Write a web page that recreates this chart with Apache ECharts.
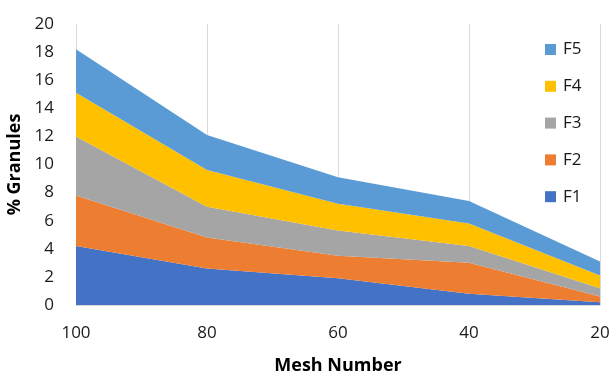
<!DOCTYPE html>
<html><head><meta charset="utf-8">
<script src="https://cdn.jsdelivr.net/npm/echarts@6/dist/echarts.min.js"></script>
<style>html,body{margin:0;padding:0;background:#fff}#c{width:610px;height:374px}</style>
</head><body><div id="c"></div>
<script>
var categories = ['100', '80', '60', '40', '20'];
var F1 = [4.2, 2.6, 1.9, 0.8, 0.2];
var F2 = [3.6, 2.2, 1.6, 2.2, 0.4];
var F3 = [4.2, 2.2, 1.8, 1.2, 0.6];
var F4 = [3.1, 2.6, 1.9, 1.6, 0.9];
var F5 = [3.1, 2.5, 1.9, 1.6, 1.0];
var seriesNames = ['F1', 'F2', 'F3', 'F4', 'F5'];
var seriesData = [F1, F2, F3, F4, F5];
var colors = ['#4472C4', '#ED7D31', '#A5A5A5', '#FFC000', '#5B9BD5'];

var font = '"Open Sans", "Noto Sans", sans-serif';
var chart = echarts.init(document.getElementById('c'), null, {renderer: 'canvas'});
chart.setOption({
  animation: false,
  textStyle: {fontFamily: font},
  grid: {left: 76, right: 10, top: 24, bottom: 69, containLabel: false, outerBoundsMode: 'none'},
  legend: {
    orient: 'vertical', left: 545, top: 41, padding: 0, itemGap: 19.8,
    itemWidth: 11, itemHeight: 11, icon: 'rect',
    data: ['F5', 'F4', 'F3', 'F2', 'F1'],
    textStyle: {fontSize: 17, lineHeight: 17, color: '#1a1a1a', fontFamily: font, padding: [0, 0, 0, 2]}
  },
  xAxis: {
    type: 'category', data: categories, boundaryGap: false,
    name: 'Mesh Number', nameLocation: 'middle', nameGap: 52,
    nameTextStyle: {fontSize: 18, fontWeight: 'bold', color: '#000', fontFamily: font},
    axisLine: {show: true, lineStyle: {color: '#d9d9d9'}},
    axisTick: {show: false},
    axisLabel: {fontSize: 17, color: '#1a1a1a', margin: 20},
    splitLine: {show: true, lineStyle: {color: '#d9d9d9', width: 1}}
  },
  yAxis: {
    type: 'value', min: 0, max: 20, interval: 2,
    name: '% Granules', nameLocation: 'middle', nameGap: 44,
    nameTextStyle: {fontSize: 18, fontWeight: 'bold', color: '#000', fontFamily: font},
    axisLine: {show: false}, axisTick: {show: false},
    axisLabel: {fontSize: 17, color: '#1a1a1a', margin: 22},
    splitLine: {show: false}
  },
  series: seriesNames.map(function (n, i) {
    return {
      name: n, type: 'line', stack: 'total', data: seriesData[i],
      symbol: 'none', lineStyle: {width: 0},
      areaStyle: {color: colors[i], opacity: 1},
      itemStyle: {color: colors[i]}
    };
  })
});
</script></body></html>
